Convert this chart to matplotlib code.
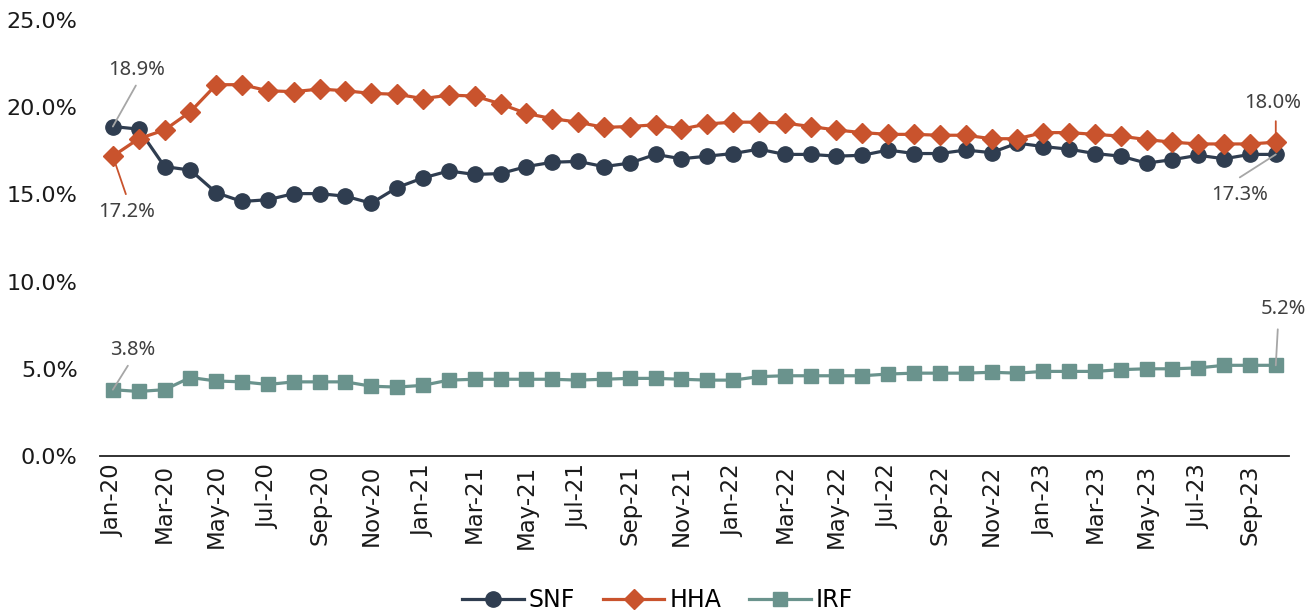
import matplotlib
matplotlib.use("Agg")
import matplotlib.pyplot as plt
from matplotlib.ticker import FuncFormatter

months = ["Jan", "Feb", "Mar", "Apr", "May", "Jun", "Jul", "Aug", "Sep", "Oct", "Nov", "Dec"]
dates = [f"{m}-{y}" for y in ["20", "21", "22", "23"] for m in months][:46]

snf = [18.9, 18.75, 16.6, 16.4, 15.1, 14.6, 14.7, 15.05, 15.05, 14.9, 14.5, 15.4,
       15.95, 16.35, 16.15, 16.2, 16.6, 16.85, 16.9, 16.6, 16.8, 17.3, 17.05, 17.2,
       17.35, 17.6, 17.3, 17.3, 17.2, 17.25, 17.55, 17.35, 17.35, 17.55, 17.4, 17.95,
       17.75, 17.6, 17.35, 17.2, 16.8, 17.0, 17.25, 17.05, 17.3, 17.3]
hha = [17.2, 18.2, 18.7, 19.75, 21.3, 21.3, 20.95, 20.9, 21.05, 20.95, 20.8, 20.75,
       20.5, 20.7, 20.65, 20.2, 19.65, 19.35, 19.15, 18.85, 18.9, 19.0, 18.75, 19.05,
       19.15, 19.15, 19.1, 18.9, 18.7, 18.55, 18.45, 18.45, 18.4, 18.4, 18.2, 18.2,
       18.55, 18.55, 18.45, 18.35, 18.15, 18.0, 17.9, 17.9, 17.9, 18.0]
irf = [3.8, 3.7, 3.8, 4.5, 4.3, 4.25, 4.1, 4.25, 4.25, 4.25, 4.0, 3.95,
       4.05, 4.35, 4.4, 4.4, 4.4, 4.4, 4.35, 4.4, 4.45, 4.45, 4.4, 4.35,
       4.35, 4.55, 4.6, 4.6, 4.6, 4.6, 4.7, 4.75, 4.75, 4.75, 4.8, 4.75,
       4.85, 4.85, 4.85, 4.95, 5.0, 5.0, 5.05, 5.2, 5.2, 5.2]

C_SNF = "#2f3d50"
C_HHA = "#c9532d"
C_IRF = "#6a938d"
GREY = "#a6a6a6"
TXT = "#404040"

fig = plt.figure(figsize=(13.15, 6.12), dpi=100)
ax = fig.add_axes([0.076, 0.255, 0.904, 0.712])
x = list(range(len(dates)))

ax.plot(x, snf, "-o", color=C_SNF, lw=2.3, ms=11, label="SNF")
ax.plot(x, hha, "-D", color=C_HHA, lw=2.3, ms=10, label="HHA")
ax.plot(x, irf, "-s", color=C_IRF, lw=2.3, ms=10, label="IRF")

ax.set_xlim(-0.5, len(dates) - 0.5)
ax.set_ylim(0, 25)
ax.set_yticks([0, 5, 10, 15, 20, 25])
ax.yaxis.set_major_formatter(FuncFormatter(lambda v, p: f"{v:.1f}%"))
ax.set_xticks(x[::2])
ax.set_xticklabels(dates[::2], rotation=90, fontsize=16.5, family="DejaVu Sans", color="#1a1a1a")
ax.tick_params(axis="y", length=0, labelsize=16, pad=16, labelcolor="#1a1a1a")
ax.tick_params(axis="x", length=0, pad=6)
for s in ["top", "right", "left"]:
    ax.spines[s].set_visible(False)
ax.spines["bottom"].set_color("#222222")
ax.spines["bottom"].set_linewidth(1.3)

PX = 0.72  # pixels -> points


def lbl(i, v, txt, line_end, text_pos, color):
    ax.annotate("", xy=(i, v), xytext=(line_end[0] * PX, line_end[1] * PX),
                textcoords="offset points",
                arrowprops=dict(arrowstyle="-", color=color, lw=1.3, shrinkA=0, shrinkB=0))
    ax.annotate(txt, xy=(i, v), xytext=(text_pos[0] * PX, text_pos[1] * PX),
                textcoords="offset points", ha="center", va="center",
                fontsize=14.5, family="Noto Sans", color=TXT)


n = len(dates) - 1
lbl(0, snf[0], "18.9%", (23, 41), (24, 57), GREY)
lbl(0, hha[0], "17.2%", (13, -38), (14, -56), C_HHA)
lbl(n, hha[n], "18.0%", (0, 21), (-3, 39), C_HHA)
lbl(n, snf[n], "17.3%", (-36, -23), (-36, -41), GREY)
lbl(0, irf[0], "3.8%", (15, 24), (20, 40), GREY)
lbl(n, irf[n], "5.2%", (2, 36), (8, 56), GREY)

leg = fig.legend(loc="lower center", bbox_to_anchor=(0.5, -0.035), ncol=3, frameon=False,
                 fontsize=17, handlelength=2.6, columnspacing=1.2, handletextpad=0.2)

fig.savefig("out.png", dpi=100)
